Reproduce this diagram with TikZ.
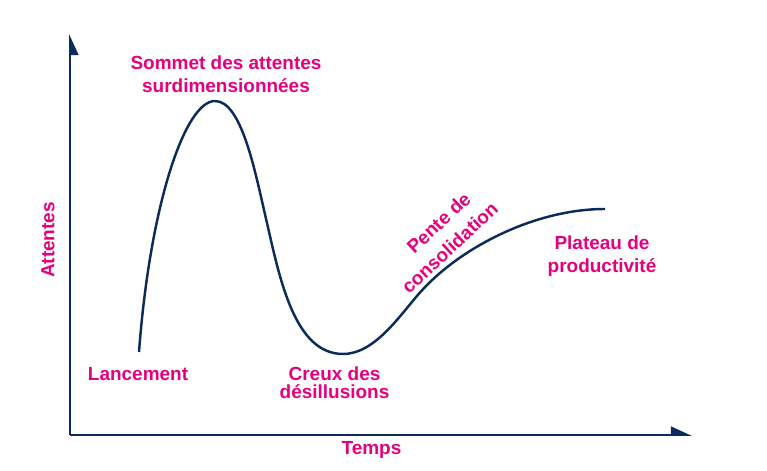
\documentclass[tikz,border=0pt]{standalone}
\usepackage{fontspec}
\setmainfont{Liberation Sans}
\usepackage{xcolor}
\usepackage{tikz}
\usetikzlibrary{arrows.meta}
\definecolor{HypeNavy}{RGB}{10, 43, 92}
\definecolor{HypePink}{RGB}{230, 0, 126}

\begin{document}
\begin{tikzpicture}[every node/.style={font=\fontsize{10.8}{13}\selectfont\bfseries, text=HypePink, align=center},
    axis/.style={line width=1.1pt, color=HypeNavy},
    curve/.style={line width=1.4pt, color=HypeNavy}]
          \useasboundingbox (-1.4,-0.72) rectangle (13.94,8.7);
          % axes
          \coordinate (O) at (0,0);
          \coordinate (ytop) at (0,8.02);
          \coordinate (xend) at (12.44,0);
          \draw[axis, -{Triangle[length=0.38cm, width=0.34cm, right]}] (O) -- (ytop);
          \draw[axis, -{Triangle[length=0.38cm, width=0.34cm, left]}] (O) -- (xend);
          \node[rotate=90] (att) at (-0.44,3.9) {Attentes};
          \node (temps) at (6.03,-0.3) {Temps};
          % hype curve
          \draw[curve] (1.38,1.66) .. controls (1.6,4.6) and (2.3,6.68) .. (2.9,6.68)
            .. controls (3.45,6.68) and (3.72,5.17) .. (3.94,4.24)
            .. controls (4.2,3.1) and (4.5,1.62) .. (5.46,1.62)
            .. controls (6.1,1.62) and (6.6,2.4) .. (7.0,2.85)
            .. controls (7.8,3.75) and (9.3,4.52) .. (10.7,4.52);
          % phases
          \node (sommet) at (3.12,7.22) {Sommet des attentes\\surdimensionnées};
          \node (lanc) at (1.36,1.22) {Lancement};
          \node[font=\fontsize{10.8}{10}\selectfont\bfseries] (creux) at (5.29,1.04) {Creux des\\désillusions};
          \node[rotate=43, font=\fontsize{10.8}{14.5}\selectfont\bfseries] (pente) at (7.42,3.94) {\hspace*{0.9em}Pente de\\consolidation};
          \node (plateau) at (10.64,3.58) {Plateau de\\productivité};
        \end{tikzpicture}
\end{document}
